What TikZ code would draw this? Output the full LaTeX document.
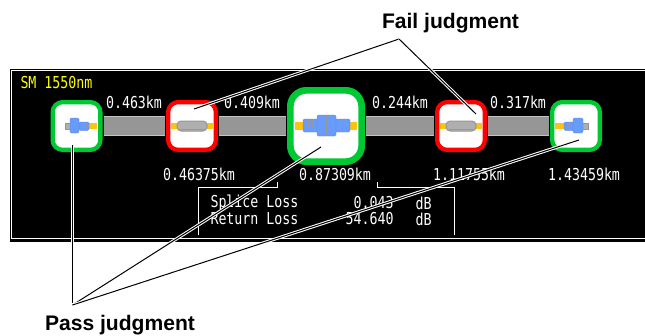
\documentclass[tikz,border=0pt]{standalone}
\usepackage{fontspec}
\setmainfont{Liberation Sans}
\newfontfamily\screenfont[FakeStretch=0.81]{DejaVu Sans Mono}
\definecolor{passgreen}{RGB}{0,200,50}
\definecolor{failred}{RGB}{255,0,0}
\definecolor{connblue}{RGB}{105,155,250}
\definecolor{cordyellow}{RGB}{255,195,15}
\definecolor{fibregrey}{RGB}{150,150,150}
\definecolor{fibreedge}{RGB}{195,195,195}
\definecolor{sleevegrey}{RGB}{175,175,175}
\definecolor{screenyellow}{RGB}{255,255,0}
\tikzset{every picture/.style={line width=0.75pt}}
\tikzset{
  eventbox/.style={rectangle,fill=white,line width=3.2pt,rounded corners=7.5pt,minimum size=35.8pt,inner sep=0pt},
  passbox/.style={eventbox,draw=passgreen},
  failbox/.style={eventbox,draw=failred},
  bigbox/.style={eventbox,draw=passgreen,line width=5pt,rounded corners=12pt,minimum size=53.5pt},
  fibreline/.style={draw=fibreedge,line width=0.9pt,double=fibregrey,double distance=13.2pt,shorten <=0.75pt,shorten >=0.75pt},
  leader/.style={draw=black,line width=0.75pt,preaction={draw=white,line width=2.3pt}},
  screentext/.style={text=white,inner sep=0.75pt,font=\screenfont\fontsize{12.3}{12.3}\selectfont},
  judgetext/.style={text=black,inner sep=0.75pt,font=\bfseries\fontsize{15.8}{18}\selectfont},
  bodyblue/.style={fill=connblue,draw=connblue!85!black,line width=0.3pt,rounded corners=1pt},
  tipgrey/.style={fill=sleevegrey,draw=fibregrey,line width=0.4pt},
  sleeve/.style={fill=sleevegrey,draw=fibregrey,line width=0.75pt,rounded corners=3pt},
  mark line/.style={draw=black!40,line width=0.4pt},
}

\begin{document}
\begin{tikzpicture}[x=0.75pt,y=0.75pt,yscale=-1,xscale=1]
    \useasboundingbox (0,0) rectangle (645,335);

    % Screen
    \fill[black] (10,69) rectangle (645,242);
    \draw[white] (645,70.5) -- (11.5,70.5) -- (11.5,238) -- (645,238);

    % Event boxes
    \node[passbox] (startbox) at (76.5,126) {};
    \node[failbox] (failboxA) at (192,126) {};
    \node[bigbox] (midbox) at (326,126) {};
    \node[failbox] (failboxB) at (461,126) {};
    \node[passbox] (endbox) at (576,126) {};

    % Fibre sections
    \draw[fibreline] (startbox) -- (failboxA);
    \draw[fibreline] (failboxA) -- (midbox);
    \draw[fibreline] (midbox) -- (failboxB);
    \draw[fibreline] (failboxB) -- (endbox);

    % Start connector
    \fill[cordyellow] (88,123) rectangle (97,129);
    \draw[tipgrey] (65,123.5) rectangle (71,129);
    \draw[bodyblue] (79,122) rectangle (89,130.5);
    \draw[bodyblue] (70,118) rectangle (79,133);
    \draw[mark line] (83,123) -- (83,127) (86,123) -- (86,127);

    % Fail sleeve A
    \fill[cordyellow] (171,123) rectangle (213,129);
    \draw[sleeve] (177,121) rectangle (207,131);
    \draw[mark line] (180,129) -- (204,129);

    % Middle connector
    \fill[cordyellow] (295,122) rectangle (357,130);
    \draw[bodyblue] (303,119) rectangle (350,132);
    \draw[bodyblue] (317,115) rectangle (336,136);
    \draw[draw=fibregrey,line width=1pt] (326,115) -- (326,136);
    \draw[mark line] (308,120) -- (308,127) (312,120) -- (312,127) (341,120) -- (341,127) (345,120) -- (345,127);

    % Fail sleeve B
    \fill[cordyellow] (440,123) rectangle (482,129);
    \draw[sleeve] (446,121) rectangle (476,131);
    \draw[mark line] (449,129) -- (473,129);

    % End connector
    \fill[cordyellow] (555,123) rectangle (564,129);
    \draw[tipgrey] (582,123.5) rectangle (588,129);
    \draw[bodyblue] (564,122) rectangle (574,130.5);
    \draw[bodyblue] (573,118) rectangle (583,133);
    \draw[mark line] (568,123) -- (568,127);

    % Text Node
    \draw (19,83) node (wavelabel) [anchor=west][screentext,text=screenyellow] {SM 1550nm};
    % Text Node
    \draw (134,102) node (lenA) [screentext] {0.463km};
    % Text Node
    \draw (252,102) node (lenB) [screentext] {0.409km};
    % Text Node
    \draw (400,102) node (lenC) [screentext] {0.244km};
    % Text Node
    \draw (518,102) node (lenD) [screentext] {0.317km};
    % Text Node
    \draw (199,174) node (posA) [screentext] {0.46375km};
    % Text Node
    \draw (335,174) node (posB) [screentext] {0.87309km};
    % Text Node
    \draw (469,174) node (posC) [screentext] {1.11755km};
    % Text Node
    \draw (584,174) node (posD) [screentext] {1.43459km};

    % Table bracket
    \draw[white,line width=0.6pt] (277,182) -- (277,187) -- (198.5,187) -- (198.5,235);
    \draw[white,line width=0.6pt] (377,182) -- (377,187) -- (454.5,187) -- (454.5,235);
    % Text Node
    \draw (209,203) node (spliceloss) [anchor=west][screentext] {Splice Loss};
    % Text Node
    \draw (209,219) node (returnloss) [anchor=west][screentext] {Return Loss};
    % Text Node
    \draw (395,203) node (splicevalue) [anchor=east][screentext] {0.043};
    % Text Node
    \draw (395,219) node (returnvalue) [anchor=east][screentext] {54.640};
    % Text Node
    \draw (414,203) node (spliceunit) [anchor=west][screentext] {dB};
    % Text Node
    \draw (414,219) node (returnunit) [anchor=west][screentext] {dB};

    % Text Node
    \draw (450.5,23) node (faillabel) [judgetext] {Fail judgment};
    % Text Node
    \draw (120,325) node (passlabel) [judgetext] {Pass judgment};

    \coordinate (failhub) at (399,39);
    \coordinate (failendA) at (194,109);
    \coordinate (failendB) at (476,114);
    \coordinate (passhub) at (72.5,305);
    \coordinate (passendA) at (72.5,145);
    \coordinate (passendB) at (321,147);
    \coordinate (passendC) at (579,140);

    %Straight Lines
    \draw[leader] (failhub) -- (failendA);
    \draw[leader] (failhub) -- (failendB);
    \draw[leader] (passhub) -- (passendA);
    \draw[leader] (passhub) -- (passendB);
    \draw[leader] (passhub) -- (passendC);
\end{tikzpicture}
\end{document}
